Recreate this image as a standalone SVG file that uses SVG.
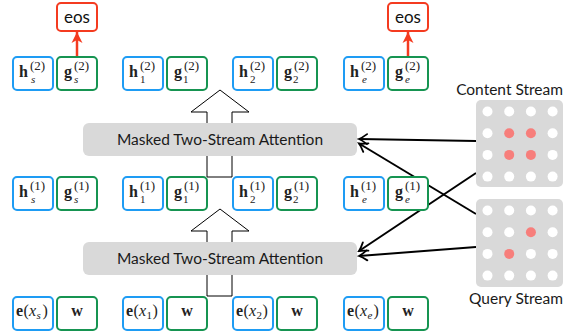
<svg xmlns="http://www.w3.org/2000/svg" width="571" height="335" viewBox="0 0 571 335">
<style>
.hb{fill:#fff;stroke:#1E9CF4;stroke-width:2}
.gb{fill:#fff;stroke:#169451;stroke-width:2}
.eb{fill:#fff;stroke:#F43B20;stroke-width:2}
.att{fill:#D9D9D9}
.mat{fill:#D9D9D9}
.dw{fill:#fff}
.dr{fill:#F77E7B}
.m{font-family:"Liberation Serif","DejaVu Serif",serif;font-size:16px;font-weight:bold;fill:#222}
.r{font-family:"Liberation Serif","DejaVu Serif",serif;font-size:16px;fill:#222}
.i{font-family:"Liberation Serif","DejaVu Serif",serif;font-size:16px;font-style:italic;fill:#222}
.sp{font-family:"Liberation Serif","DejaVu Serif",serif;font-size:13px;fill:#222}
.si{font-family:"Liberation Serif","DejaVu Serif",serif;font-size:11px;font-style:italic;fill:#222}
.su{font-family:"Liberation Serif","DejaVu Serif",serif;font-size:11px;fill:#222}
.t{font-family:Lato,"Open Sans",sans-serif;font-size:15.5px;fill:#1a1a1a}
.eos{font-family:Lato,"Open Sans",sans-serif;font-size:17px;fill:#111}
.ln{stroke:#000;stroke-width:2;fill:none}
.hollow{fill:#fff;stroke:#000;stroke-width:1}
.red{stroke:#F43B20;stroke-width:2.5;fill:none}
</style>
<defs>
<marker id="ah" viewBox="-10 -7 12 14" refX="0" refY="0" markerWidth="12" markerHeight="14" markerUnits="userSpaceOnUse" orient="auto">
<path d="M-8,-5 Q-3,-1.2 0,0 Q-3,1.2 -8,5" fill="none" stroke="#000" stroke-width="1.8" stroke-linecap="round"/>
</marker>
<marker id="rh" viewBox="-12 -7 13 14" refX="0" refY="0" markerWidth="13" markerHeight="14" markerUnits="userSpaceOnUse" orient="auto">
<path d="M0,0 L-11,-5.5 L-8,0 L-11,5.5 Z" fill="#F43B20"/>
</marker>
</defs>

<g id="connectors">
<polygon class="hollow" points="207,177 207,112 191,112 220,90 249,112 232,112 232,177"/>
<polygon class="hollow" points="207,296 207,231 191,231 220,209 249,231 232,231 232,296"/>
<line class="ln" x1="476" y1="141" x2="359" y2="139" marker-end="url(#ah)"/>
<line class="ln" x1="476" y1="214" x2="359" y2="143.5" marker-end="url(#ah)"/>
<line class="ln" x1="476" y1="173" x2="359" y2="251" marker-end="url(#ah)"/>
<line class="ln" x1="476" y1="247" x2="359" y2="256" marker-end="url(#ah)"/>
<line class="red" x1="77" y1="57" x2="77" y2="32" marker-end="url(#rh)"/>
<line class="red" x1="408" y1="57" x2="408" y2="32" marker-end="url(#rh)"/>
</g>

<g id="attention-top"><rect class="att" x="83" y="123" width="274" height="33" rx="6"/><text class="t" x="220" y="145" text-anchor="middle">Masked Two-Stream Attention</text></g>
<g id="attention-bottom"><rect class="att" x="83" y="242" width="274" height="33" rx="6"/><text class="t" x="220" y="264" text-anchor="middle">Masked Two-Stream Attention</text></g>

<g id="eos-s"><rect class="eb" x="57" y="3" width="40" height="28" rx="4"/><text class="eos" x="77" y="23" text-anchor="middle">eos</text></g>
<g id="eos-e"><rect class="eb" x="388" y="3" width="40" height="28" rx="4"/><text class="eos" x="408" y="23" text-anchor="middle">eos</text></g>

<!-- layer 2 -->
<g id="h2s"><rect class="hb" x="13" y="57" width="40" height="33" rx="4"/><text class="m" x="19" y="77">h</text><text class="sp" x="30" y="70">(2)</text><text class="si" x="31" y="83">s</text></g>
<g id="g2s"><rect class="gb" x="57" y="57" width="40" height="33" rx="4"/><text class="m" x="64" y="77">g</text><text class="sp" x="74" y="70">(2)</text><text class="si" x="74" y="83">s</text></g>
<g id="h21"><rect class="hb" x="123" y="57" width="40" height="33" rx="4"/><text class="m" x="129" y="77">h</text><text class="sp" x="140" y="70">(2)</text><text class="su" x="140" y="83">1</text></g>
<g id="g21"><rect class="gb" x="167" y="57" width="40" height="33" rx="4"/><text class="m" x="174" y="77">g</text><text class="sp" x="184" y="70">(2)</text><text class="su" x="183" y="83">1</text></g>
<g id="h22"><rect class="hb" x="233" y="57" width="40" height="33" rx="4"/><text class="m" x="239" y="77">h</text><text class="sp" x="250" y="70">(2)</text><text class="su" x="250" y="83">2</text></g>
<g id="g22"><rect class="gb" x="277" y="57" width="40" height="33" rx="4"/><text class="m" x="284" y="77">g</text><text class="sp" x="294" y="70">(2)</text><text class="su" x="293" y="83">2</text></g>
<g id="h2e"><rect class="hb" x="344" y="57" width="40" height="33" rx="4"/><text class="m" x="350" y="77">h</text><text class="sp" x="361" y="70">(2)</text><text class="si" x="362" y="83">e</text></g>
<g id="g2e"><rect class="gb" x="388" y="57" width="40" height="33" rx="4"/><text class="m" x="395" y="77">g</text><text class="sp" x="405" y="70">(2)</text><text class="si" x="405" y="83">e</text></g>

<!-- layer 1 -->
<g id="h1s"><rect class="hb" x="13" y="177" width="40" height="33" rx="4"/><text class="m" x="19" y="197">h</text><text class="sp" x="30" y="190">(1)</text><text class="si" x="31" y="203">s</text></g>
<g id="g1s"><rect class="gb" x="57" y="177" width="40" height="33" rx="4"/><text class="m" x="64" y="197">g</text><text class="sp" x="74" y="190">(1)</text><text class="si" x="74" y="203">s</text></g>
<g id="h11"><rect class="hb" x="123" y="177" width="40" height="33" rx="4"/><text class="m" x="129" y="197">h</text><text class="sp" x="140" y="190">(1)</text><text class="su" x="140" y="203">1</text></g>
<g id="g11"><rect class="gb" x="167" y="177" width="40" height="33" rx="4"/><text class="m" x="174" y="197">g</text><text class="sp" x="184" y="190">(1)</text><text class="su" x="183" y="203">1</text></g>
<g id="h12"><rect class="hb" x="233" y="177" width="40" height="33" rx="4"/><text class="m" x="239" y="197">h</text><text class="sp" x="250" y="190">(1)</text><text class="su" x="250" y="203">2</text></g>
<g id="g12"><rect class="gb" x="277" y="177" width="40" height="33" rx="4"/><text class="m" x="284" y="197">g</text><text class="sp" x="294" y="190">(1)</text><text class="su" x="293" y="203">2</text></g>
<g id="h1e"><rect class="hb" x="344" y="177" width="40" height="33" rx="4"/><text class="m" x="350" y="197">h</text><text class="sp" x="361" y="190">(1)</text><text class="si" x="362" y="203">e</text></g>
<g id="g1e"><rect class="gb" x="388" y="177" width="40" height="33" rx="4"/><text class="m" x="395" y="197">g</text><text class="sp" x="405" y="190">(1)</text><text class="si" x="405" y="203">e</text></g>

<!-- inputs -->
<g id="exs"><rect class="hb" x="13" y="297" width="40" height="33" rx="4"/><text class="m" x="16" y="316">e</text><text class="r" x="23.4" y="316">(</text><text class="i" x="28.9" y="316">x</text><text class="si" x="36.5" y="319">s</text><text class="r" x="42.5" y="316">)</text></g>
<g id="ws"><rect class="gb" x="57" y="297" width="40" height="33" rx="4"/><text class="m" x="77" y="316" text-anchor="middle">w</text></g>
<g id="ex1"><rect class="hb" x="123" y="297" width="40" height="33" rx="4"/><text class="m" x="126" y="316">e</text><text class="r" x="133.4" y="316">(</text><text class="i" x="138.9" y="316">x</text><text class="su" x="146.5" y="319">1</text><text class="r" x="152.5" y="316">)</text></g>
<g id="w1"><rect class="gb" x="167" y="297" width="40" height="33" rx="4"/><text class="m" x="187" y="316" text-anchor="middle">w</text></g>
<g id="ex2"><rect class="hb" x="233" y="297" width="40" height="33" rx="4"/><text class="m" x="236" y="316">e</text><text class="r" x="243.4" y="316">(</text><text class="i" x="248.9" y="316">x</text><text class="su" x="256.5" y="319">2</text><text class="r" x="262.5" y="316">)</text></g>
<g id="w2"><rect class="gb" x="277" y="297" width="40" height="33" rx="4"/><text class="m" x="297" y="316" text-anchor="middle">w</text></g>
<g id="exe"><rect class="hb" x="344" y="297" width="40" height="33" rx="4"/><text class="m" x="347" y="316">e</text><text class="r" x="354.4" y="316">(</text><text class="i" x="359.9" y="316">x</text><text class="si" x="367.5" y="319">e</text><text class="r" x="373.5" y="316">)</text></g>
<g id="we"><rect class="gb" x="388" y="297" width="40" height="33" rx="4"/><text class="m" x="408" y="316" text-anchor="middle">w</text></g>

<g id="content-stream">
<text class="t" x="563" y="95" text-anchor="end">Content Stream</text>
<rect class="mat" x="476" y="100" width="87" height="87" rx="5"/>
<circle class="dw" cx="487.5" cy="111.5" r="5"/><circle class="dw" cx="509.2" cy="111.5" r="5"/><circle class="dw" cx="530.9" cy="111.5" r="5"/><circle class="dw" cx="552.6" cy="111.5" r="5"/>
<circle class="dw" cx="487.5" cy="133.2" r="5"/><circle class="dr" cx="509.2" cy="133.2" r="5"/><circle class="dr" cx="530.9" cy="133.2" r="5"/><circle class="dw" cx="552.6" cy="133.2" r="5"/>
<circle class="dw" cx="487.5" cy="154.9" r="5"/><circle class="dr" cx="509.2" cy="154.9" r="5"/><circle class="dr" cx="530.9" cy="154.9" r="5"/><circle class="dw" cx="552.6" cy="154.9" r="5"/>
<circle class="dw" cx="487.5" cy="176.6" r="5"/><circle class="dw" cx="509.2" cy="176.6" r="5"/><circle class="dw" cx="530.9" cy="176.6" r="5"/><circle class="dw" cx="552.6" cy="176.6" r="5"/>
</g>
<g id="query-stream">
<rect class="mat" x="476" y="199" width="87" height="88" rx="5"/>
<circle class="dw" cx="487.5" cy="210.5" r="5"/><circle class="dw" cx="509.2" cy="210.5" r="5"/><circle class="dw" cx="530.9" cy="210.5" r="5"/><circle class="dw" cx="552.6" cy="210.5" r="5"/>
<circle class="dw" cx="487.5" cy="232.2" r="5"/><circle class="dw" cx="509.2" cy="232.2" r="5"/><circle class="dr" cx="530.9" cy="232.2" r="5"/><circle class="dw" cx="552.6" cy="232.2" r="5"/>
<circle class="dw" cx="487.5" cy="253.9" r="5"/><circle class="dr" cx="509.2" cy="253.9" r="5"/><circle class="dw" cx="530.9" cy="253.9" r="5"/><circle class="dw" cx="552.6" cy="253.9" r="5"/>
<circle class="dw" cx="487.5" cy="275.6" r="5"/><circle class="dw" cx="509.2" cy="275.6" r="5"/><circle class="dw" cx="530.9" cy="275.6" r="5"/><circle class="dw" cx="552.6" cy="275.6" r="5"/>
<text class="t" x="563" y="304" text-anchor="end">Query Stream</text>
</g>
</svg>
